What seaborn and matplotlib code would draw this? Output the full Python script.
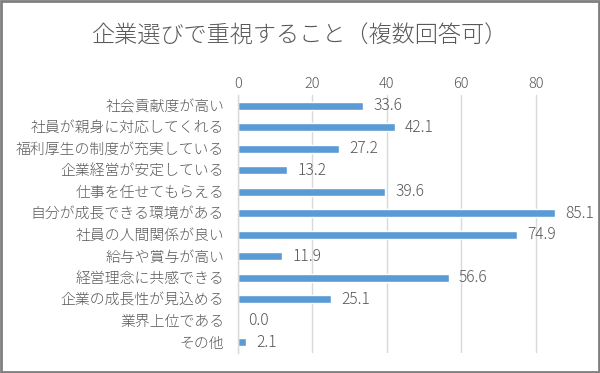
import matplotlib
matplotlib.use("Agg")
import matplotlib.pyplot as plt
import seaborn as sns
import pandas as pd
from matplotlib.patches import Rectangle

categories = ["社会貢献度が高い", "社員が親身に対応してくれる", "福利厚生の制度が充実している",
              "企業経営が安定している", "仕事を任せてもらえる", "自分が成長できる環境がある",
              "社員の人間関係が良い", "給与や賞与が高い", "経営理念に共感できる",
              "企業の成長性が見込める", "業界上位である", "その他"]
values = [33.6, 42.1, 27.2, 13.2, 39.6, 85.1, 74.9, 11.9, 56.6, 25.1, 0.0, 2.1]
xticks = [0, 20, 40, 60, 80]
title = "企業選びで重視すること（複数回答可）"

sns.set_theme(style="white")
plt.rcParams['font.family'] = ['Noto Sans CJK JP', 'DejaVu Sans']
plt.rcParams['font.weight'] = 'light'

df = pd.DataFrame({"category": categories, "value": values})

fig = plt.figure(figsize=(6, 3.73), dpi=100)
W, H = 600, 373
ax = fig.add_axes([238 / W, 1 - 353 / H, (573 - 238) / W, (353 - 95) / H])

sns.barplot(data=df, x="value", y="category", orient="h", color="#5B9BD5",
            saturation=1, width=0.37, ax=ax)

ax.set_xlim(0, 90)
ax.set_xticks(xticks)
ax.xaxis.tick_top()
ax.tick_params(axis="x", length=0, pad=3, labelsize=10.5, labelcolor="#595959")
ax.tick_params(axis="y", length=0, pad=10, labelsize=10.7, labelcolor="#595959")
ax.set_xlabel("")
ax.set_ylabel("")
ax.grid(axis="x", color="#D9D9D9", linewidth=1)
ax.set_axisbelow(True)
for s in ["top", "right", "bottom"]:
    ax.spines[s].set_visible(False)
ax.spines["left"].set_color("#D9D9D9")
ax.spines["left"].set_linewidth(1)

for i, v in enumerate(values):
    ax.text(v + 2.7, i, f"{v:.1f}", va="center", ha="left", fontsize=11.2, color="#595959")

fig.text(0.5, 1 - 36 / H, title, ha="center", va="center", fontsize=16.7, color="#595959")

fig.patches.append(Rectangle((0.002, 0.003), 0.996, 0.994, transform=fig.transFigure,
                             fill=False, edgecolor="#7F7F7F", linewidth=2))

fig.savefig("out.png", dpi=100)
